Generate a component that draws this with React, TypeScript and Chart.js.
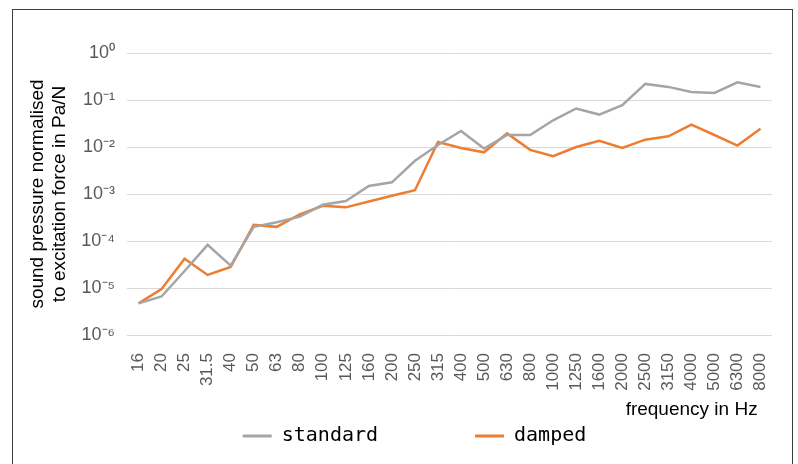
import React, { useEffect, useRef } from "react";
import { Chart, registerables } from "chart.js";

Chart.register(...registerables);

const categories = ["16", "20", "25", "31.5", "40", "50", "63", "80", "100", "125", "160", "200", "250", "315", "400", "500", "630", "800", "1000", "1250", "1600", "2000", "2500", "3150", "4000", "5000", "6300", "8000"];

const standardValues = [4.7e-6, 6.6e-6, 2.3e-5, 8.3e-5, 3.0e-5, 2.0e-4, 2.5e-4, 3.3e-4, 5.9e-4, 7.1e-4, 1.48e-3, 1.77e-3, 5.1e-3, 1.1e-2, 2.2e-2, 9.3e-3, 1.8e-2, 1.8e-2, 3.7e-2, 6.6e-2, 4.9e-2, 7.8e-2, 0.22, 0.19, 0.148, 0.141, 0.237, 0.19];

const dampedValues = [4.7e-6, 9.5e-6, 4.2e-5, 1.9e-5, 2.8e-5, 2.2e-4, 2.0e-4, 3.7e-4, 5.6e-4, 5.2e-4, 6.9e-4, 9.2e-4, 1.2e-3, 1.28e-2, 9.5e-3, 7.7e-3, 1.95e-2, 8.7e-3, 6.4e-3, 1.0e-2, 1.36e-2, 9.5e-3, 1.43e-2, 1.69e-2, 3.0e-2, 1.8e-2, 1.07e-2, 2.45e-2];

const yTickExponents = [-6, -5, -4, -3, -2, -1, 0];

const seriesNames = ["standard", "damped"];
const xTitle = "frequency in Hz";
const yTitle = ["sound pressure normalised", "to excitation force in Pa/N"];

const SUP: Record<string, string> = {
  "0": "\u2070", "1": "\u00B9", "2": "\u00B2", "3": "\u00B3", "4": "\u2074",
  "5": "\u2075", "6": "\u2076", "7": "\u2077", "8": "\u2078", "9": "\u2079", "-": "\u207B",
};
const sup = (s: string) => s.split("").map((c) => SUP[c] || c).join("");

const SANS = "'Liberation Sans', Arial, sans-serif";

export default function App() {
  const ref = useRef<HTMLCanvasElement | null>(null);
  useEffect(() => {
    if (!ref.current) return;
    const chart = new Chart(ref.current, {
      type: "line",
      data: {
        labels: categories,
        datasets: [
          {
            label: seriesNames[0],
            data: standardValues,
            borderColor: "#a5a5a5",
            backgroundColor: "#a5a5a5",
            borderWidth: 2.5,
            pointRadius: 0,
            tension: 0,
          },
          {
            label: seriesNames[1],
            data: dampedValues,
            borderColor: "#ed7d31",
            backgroundColor: "#ed7d31",
            borderWidth: 2.5,
            pointRadius: 0,
            tension: 0,
          },
        ],
      },
      options: {
        animation: false,
        responsive: false,
        devicePixelRatio: 1,
        layout: { padding: { left: 44, right: 20, top: 43, bottom: 8 } },
        plugins: {
          tooltip: { enabled: false },
          legend: {
            position: "bottom",
            labels: {
              font: { family: "'DejaVu Sans Mono', monospace", size: 20 },
              color: "#000",
              boxWidth: 29,
              boxHeight: 3,
              padding: 29,
              generateLabels: (c: any) => {
                const items = (Chart as any).defaults.plugins.legend.labels
                  .generateLabels(c)
                  .map((it: any) => ({ ...it, lineWidth: 0 }));
                // empty spacer entry between the two series
                items.splice(1, 0, {
                  text: "",
                  fillStyle: "rgba(0,0,0,0)",
                  strokeStyle: "rgba(0,0,0,0)",
                  lineWidth: 0,
                  hidden: false,
                  datasetIndex: -1,
                });
                return items;
              },
            },
          },
        },
        scales: {
          x: {
            type: "category",
            offset: true,
            grid: { display: false },
            border: { display: false },
            ticks: {
              color: "#595959",
              font: { family: SANS, size: 17 },
              minRotation: 90,
              maxRotation: 90,
              autoSkip: false,
              padding: 10,
            },
            title: {
              display: true,
              text: xTitle + "  \u2009",
              align: "end",
              color: "#000",
              font: { family: SANS, size: 19 },
              padding: { top: 0, bottom: -24 },
            },
            afterFit: (scale: any) => {
              scale.height = 62;
            },
          },
          y: {
            type: "logarithmic",
            min: 1e-6,
            max: 1,
            grid: { color: "#d9d9d9", lineWidth: 1, drawTicks: false },
            border: { display: false },
            afterBuildTicks: (scale: any) => {
              scale.ticks = yTickExponents.map((e) => ({ value: Math.pow(10, e) }));
            },
            ticks: {
              color: "#595959",
              font: { family: SANS, size: 18 },
              padding: 12,
              callback: (value: any) => {
                const e = Math.round(Math.log10(Number(value)));
                return "10" + sup(String(e));
              },
            },
            title: {
              display: true,
              text: yTitle,
              color: "#000",
              font: { family: SANS, size: 19 },
              padding: { top: -31, bottom: 0 },
            },
            afterFit: (scale: any) => {
              scale.width = 70;
            },
          },
        },
      },
    });
    return () => chart.destroy();
  }, []);

  return (
    <div
      style={{
        position: "absolute",
        left: 12,
        top: 9,
        width: 779,
        height: 454,
        borderTop: "1px solid #3f3f3f",
        borderLeft: "1px solid #3f3f3f",
        borderRight: "1px solid #3f3f3f",
        background: "#fff",
      }}
    >
      <canvas ref={ref} width={779} height={454} style={{ display: "block", width: 779, height: 454 }} />
    </div>
  );
}
